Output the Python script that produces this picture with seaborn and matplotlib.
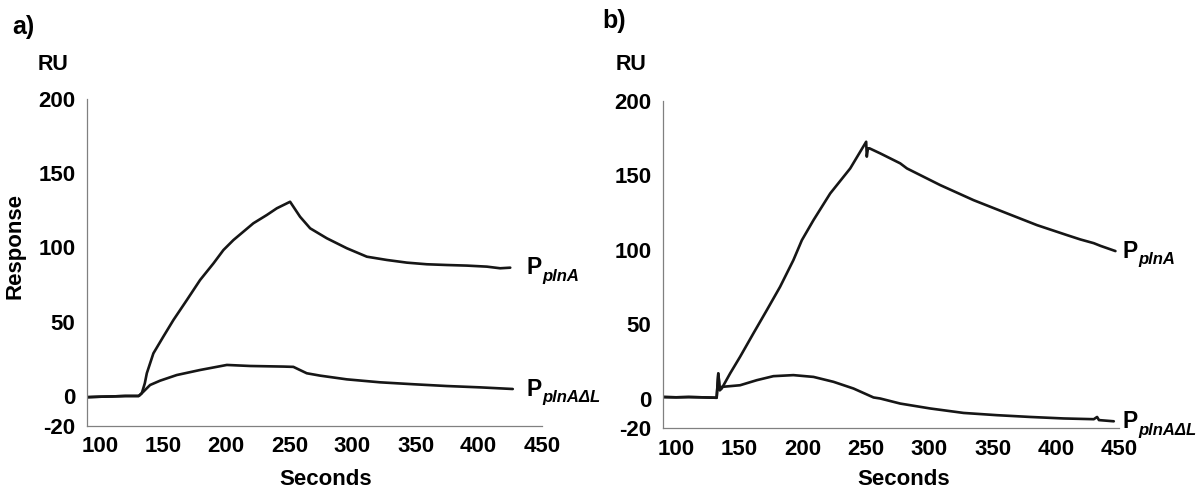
import matplotlib
matplotlib.use("Agg")
import matplotlib.pyplot as plt
import seaborn as sns
import pandas as pd

# panel a) traces (time in s, response in RU)
a_plna_t = [90, 100, 110, 120, 130.7, 133.1, 135.5, 137.1, 142.3, 150.2, 158.2, 168.8, 179.3, 189.9,
            197.8, 205.7, 221.5, 232.2, 240.1, 250.6, 258.5, 266.5, 279.7, 295.5, 311.4, 327.2,
            343.1, 358.9, 374.8, 390.6, 406.5, 417, 425]
a_plna_ru = [-0.8, -0.5, -0.3, 0, 0, 1.8, 8.5, 15.3, 28.7, 40, 51.2, 64.6, 78.1, 89.3,
             98.3, 105, 116.3, 121.9, 126.4, 130.8, 120.7, 112.9, 106.2, 99.5, 93.8, 91.6,
             89.8, 88.7, 88.2, 87.8, 87.1, 86, 86.4]
a_dl_t = [90, 100, 110, 120, 130.7, 134.4, 139.7, 147.6, 160.8, 179.3, 200.5, 218.9, 245.3,
          253.2, 263.8, 274.4, 295.5, 321.9, 348.3, 374.8, 401.2, 427]
a_dl_ru = [-0.8, -0.5, -0.3, 0, 0, 2.9, 7.4, 10.3, 14.1, 17.5, 20.9, 20.2, 19.8,
           19.6, 15.3, 13.7, 11.2, 9.2, 7.9, 6.7, 5.8, 4.7]

# panel b) traces
b_plna_t = [90, 100, 110, 120, 132, 133.3, 134.5, 136, 142.6, 150.5, 161, 171.6, 182.1, 192.6,
            199.3, 208.5, 221.7, 237.5, 250.1, 250.6, 251.5, 252.7, 261.2, 263.8, 277, 282.3,
            308.6, 334.9, 361.4, 385.1, 408.8, 419.3, 429.9, 435.2, 447]
b_plna_ru = [1, 0.8, 1, 0.8, 0.5, 16.8, 5.6, 6.7, 16.8, 28, 43.7, 59.3, 75, 92.9,
             106.3, 119.8, 137.7, 154.5, 172.4, 162.4, 168, 168, 164.6, 163.5, 157.9, 154.5,
             143.3, 133.2, 124.3, 116.4, 109.7, 106.8, 104.3, 102.5, 99]
b_dl_t = [90, 100, 110, 120, 132, 133.3, 134.5, 136, 150.5, 163.7, 176.8, 192.6, 208.5, 224.3,
          240.1, 255.9, 261.2, 277, 300.7, 327.1, 353.5, 379.8, 406.1, 429.9, 432.5, 434, 445.7]
b_dl_ru = [1, 0.8, 1, 0.8, 0.5, 16.8, 5.6, 7.8, 8.9, 12.3, 15, 15.7, 14.5, 11.2,
           6.7, 0.7, 0, -3.4, -6.7, -9.7, -11.2, -12.4, -13.4, -13.9, -12.4, -14.5, -15.3]

x_ticks = [100, 150, 200, 250, 300, 350, 400, 450]
y_ticks = [-20, 0, 50, 100, 150, 200]
sub_upper = "plnA"
sub_lower = "plnA\u0394L"

sns.set_style("white")
plt.rcParams["font.family"] = ["Liberation Sans", "DejaVu Sans"]
plt.rcParams["font.weight"] = "bold"
plt.rcParams["axes.unicode_minus"] = False
plt.rcParams["text.color"] = "black"
plt.rcParams["axes.labelcolor"] = "black"

fig = plt.figure(figsize=(12, 4.92), dpi=100)
ax_a = fig.add_axes([0.0728, 0.1348, 0.3787, 0.664])
ax_b = fig.add_axes([0.5529, 0.1295, 0.3798, 0.6659])

panels = [
    (ax_a, a_plna_t, a_plna_ru, a_dl_t, a_dl_ru, 437.5),
    (ax_b, b_plna_t, b_plna_ru, b_dl_t, b_dl_ru, 452.5),
]

line_col = "#161616"
for ax, t1, r1, t2, r2, lab_x in panels:
    d1 = pd.DataFrame({"t": t1, "ru": r1})
    d2 = pd.DataFrame({"t": t2, "ru": r2})
    sns.lineplot(data=d1, x="t", y="ru", ax=ax, color=line_col, lw=1.9, sort=False)
    sns.lineplot(data=d2, x="t", y="ru", ax=ax, color=line_col, lw=1.9, sort=False)
    ax.set_xlim(90, 450)
    ax.set_ylim(-20, 200)
    ax.set_xticks(x_ticks)
    ax.set_yticks(y_ticks)
    ax.set_xlabel("")
    ax.set_ylabel("")
    for s in ["top", "right"]:
        ax.spines[s].set_visible(False)
    for s in ["left", "bottom"]:
        ax.spines[s].set_color("#808080")
        ax.spines[s].set_linewidth(0.9)
    ax.tick_params(axis="both", which="major", length=3.6, width=0.9, color="#808080",
                   labelsize=16, labelcolor="black")
    ax.tick_params(axis="y", pad=5)
    ax.tick_params(axis="x", pad=4)
    for lbl in ax.get_xticklabels() + ax.get_yticklabels():
        lbl.set_fontweight("bold")

    # curve end labels
    for tt, rr, sub in [(t1, r1, sub_upper), (t2, r2, sub_lower)]:
        p = ax.annotate("P", xy=(lab_x, rr[-1]), xycoords="data", ha="left", va="center",
                        fontsize=16.5, fontweight="bold", annotation_clip=False)
        ax.annotate(sub, xy=(1, 0.22), xycoords=p, xytext=(0.5, -5), textcoords="offset points",
                    ha="left", va="baseline", fontsize=12, fontweight="bold", style="italic",
                    annotation_clip=False)

fig.text(0.01, 0.945, "a)", fontsize=18, fontweight="bold", ha="left", va="center")
fig.text(0.5017, 0.957, "b)", fontsize=18, fontweight="bold", ha="left", va="center")
fig.text(0.0446, 0.869, "RU", fontsize=15.5, fontweight="bold", ha="center", va="center")
fig.text(0.526, 0.869, "RU", fontsize=15.5, fontweight="bold", ha="center", va="center")
fig.text(0.0125, 0.5, "Response", fontsize=16, fontweight="bold", rotation=90,
         ha="center", va="center")
fig.text(0.2717, 0.0244, "Seconds", fontsize=16, fontweight="bold", ha="center", va="center")
fig.text(0.7533, 0.0244, "Seconds", fontsize=16, fontweight="bold", ha="center", va="center")

fig.savefig("out.png", dpi=100, facecolor="white")
